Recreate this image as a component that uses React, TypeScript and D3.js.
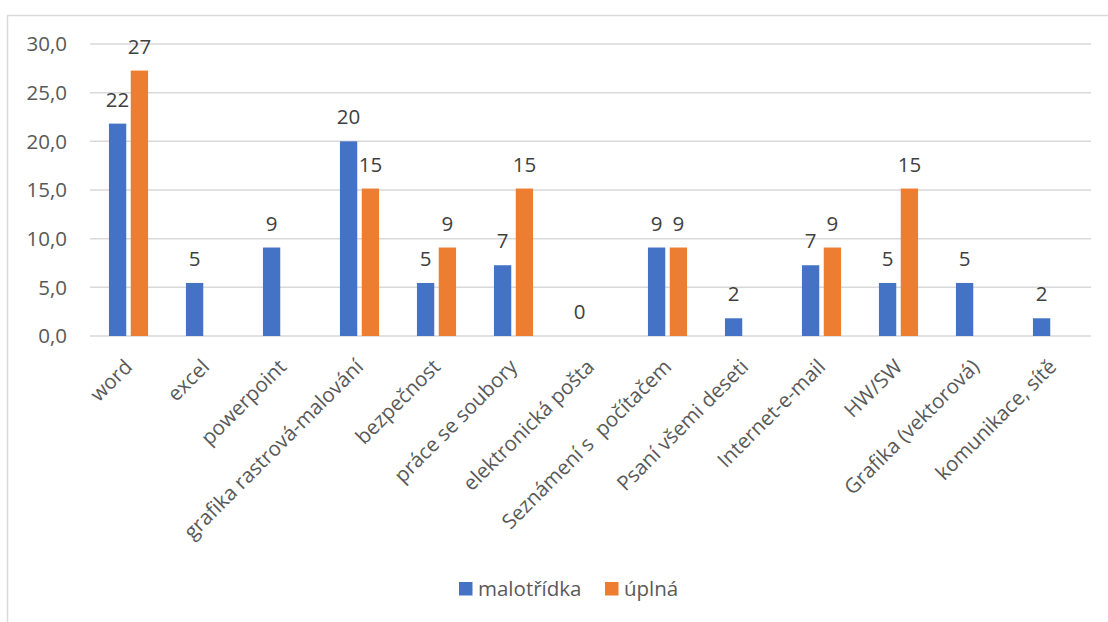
import React, { useEffect, useRef } from "react";
import * as d3 from "d3";

const categories = [
  "word",
  "excel",
  "powerpoint",
  "grafika rastrová-malování",
  "bezpečnost",
  "práce se soubory",
  "elektronická pošta",
  "Seznámení s  počítačem",
  "Psaní všemi deseti",
  "Internet-e-mail",
  "HW/SW",
  "Grafika (vektorová)",
  "komunikace, sítě",
];
const malotridka: (number | null)[] = [21.82, 5.45, 9.09, 20.0, 5.45, 7.27, 0, 9.09, 1.82, 7.27, 5.45, 5.45, 1.82];
const uplna: (number | null)[] = [27.27, null, null, 15.15, 9.09, 15.15, null, 9.09, null, 9.09, 15.15, null, null];
const seriesNames = ["malotřídka", "úplná"];
const seriesColors = ["#4472C4", "#ED7D31"];
const yTicks = [0, 5, 10, 15, 20, 25, 30];

const W = 1108;
const H = 622;
const FONT = "'Open Sans', 'Noto Sans', sans-serif";
const FS = 20.5;

export default function App() {
  const ref = useRef<SVGSVGElement>(null);

  useEffect(() => {
    const svg = d3.select(ref.current);
    svg.selectAll("*").remove();

    // chart area frame (only top and left are visible)
    svg.append("rect")
      .attr("x", 7.5).attr("y", 15.5)
      .attr("width", W + 20).attr("height", H + 20)
      .attr("fill", "none").attr("stroke", "#d9d9d9").attr("stroke-width", 1.5);

    const x = d3.scaleBand().domain(categories).range([90, 1091]).padding(0);
    const inner = d3.scaleBand().domain(["0", "1"]).range([0, x.bandwidth()])
      .paddingInner(0.206).paddingOuter(0.869);
    const y = d3.scaleLinear().domain([0, 30]).range([336, 44]);

    // gridlines
    svg.append("g").selectAll("line").data(yTicks).join("line")
      .attr("x1", 90).attr("x2", 1091)
      .attr("y1", d => y(d)).attr("y2", d => y(d))
      .attr("stroke", "#d9d9d9").attr("stroke-width", 1.5);

    // y tick labels
    svg.append("g").selectAll("text").data(yTicks).join("text")
      .attr("x", 67).attr("y", d => y(d)).attr("dy", "0.35em")
      .attr("text-anchor", "end")
      .attr("font-family", FONT).attr("font-size", FS).attr("fill", "#595959")
      .text(d => d3.format(".1f")(d).replace(".", ","));

    const series = [malotridka, uplna];
    series.forEach((vals, si) => {
      const g = svg.append("g");
      const pts = categories.map((c, i) => ({ c, v: vals[i] })).filter(d => d.v !== null) as { c: string; v: number }[];
      g.selectAll("rect").data(pts).join("rect")
        .attr("x", d => (x(d.c) as number) + (inner(String(si)) as number))
        .attr("width", inner.bandwidth())
        .attr("y", d => y(d.v))
        .attr("height", d => y(0) - y(d.v))
        .attr("fill", seriesColors[si]);
      g.selectAll("text").data(pts).join("text")
        .attr("x", d => (x(d.c) as number) + (inner(String(si)) as number) + inner.bandwidth() / 2)
        .attr("y", d => y(d.v) - 17)
        .attr("text-anchor", "middle")
        .attr("font-family", FONT).attr("font-size", FS).attr("fill", "#404040")
        .text(d => Math.round(d.v));
    });

    // category labels
    svg.append("g").selectAll("text").data(categories).join("text")
      .attr("transform", d => `translate(${(x(d) as number) + x.bandwidth() / 2},${y(0) + 27}) rotate(-45)`)
      .attr("text-anchor", "end")
      .attr("dy", "0.35em")
      .style("white-space", "pre")
      .attr("font-family", FONT).attr("font-size", FS).attr("fill", "#595959")
      .text(d => d);

    // legend
    const lg = svg.append("g");
    const legendX = [459, 605];
    seriesNames.forEach((n, i) => {
      lg.append("rect").attr("x", legendX[i]).attr("y", 582)
        .attr("width", 13.5).attr("height", 13.5).attr("fill", seriesColors[i]);
      lg.append("text").attr("x", legendX[i] + 19).attr("y", 596)
        .attr("font-family", FONT).attr("font-size", FS).attr("fill", "#595959")
        .text(n);
    });
  }, []);

  return (
    <svg ref={ref} width={W} height={H}
      style={{ position: "absolute", left: 0, top: 0, display: "block", background: "#fff" }} />
  );
}
